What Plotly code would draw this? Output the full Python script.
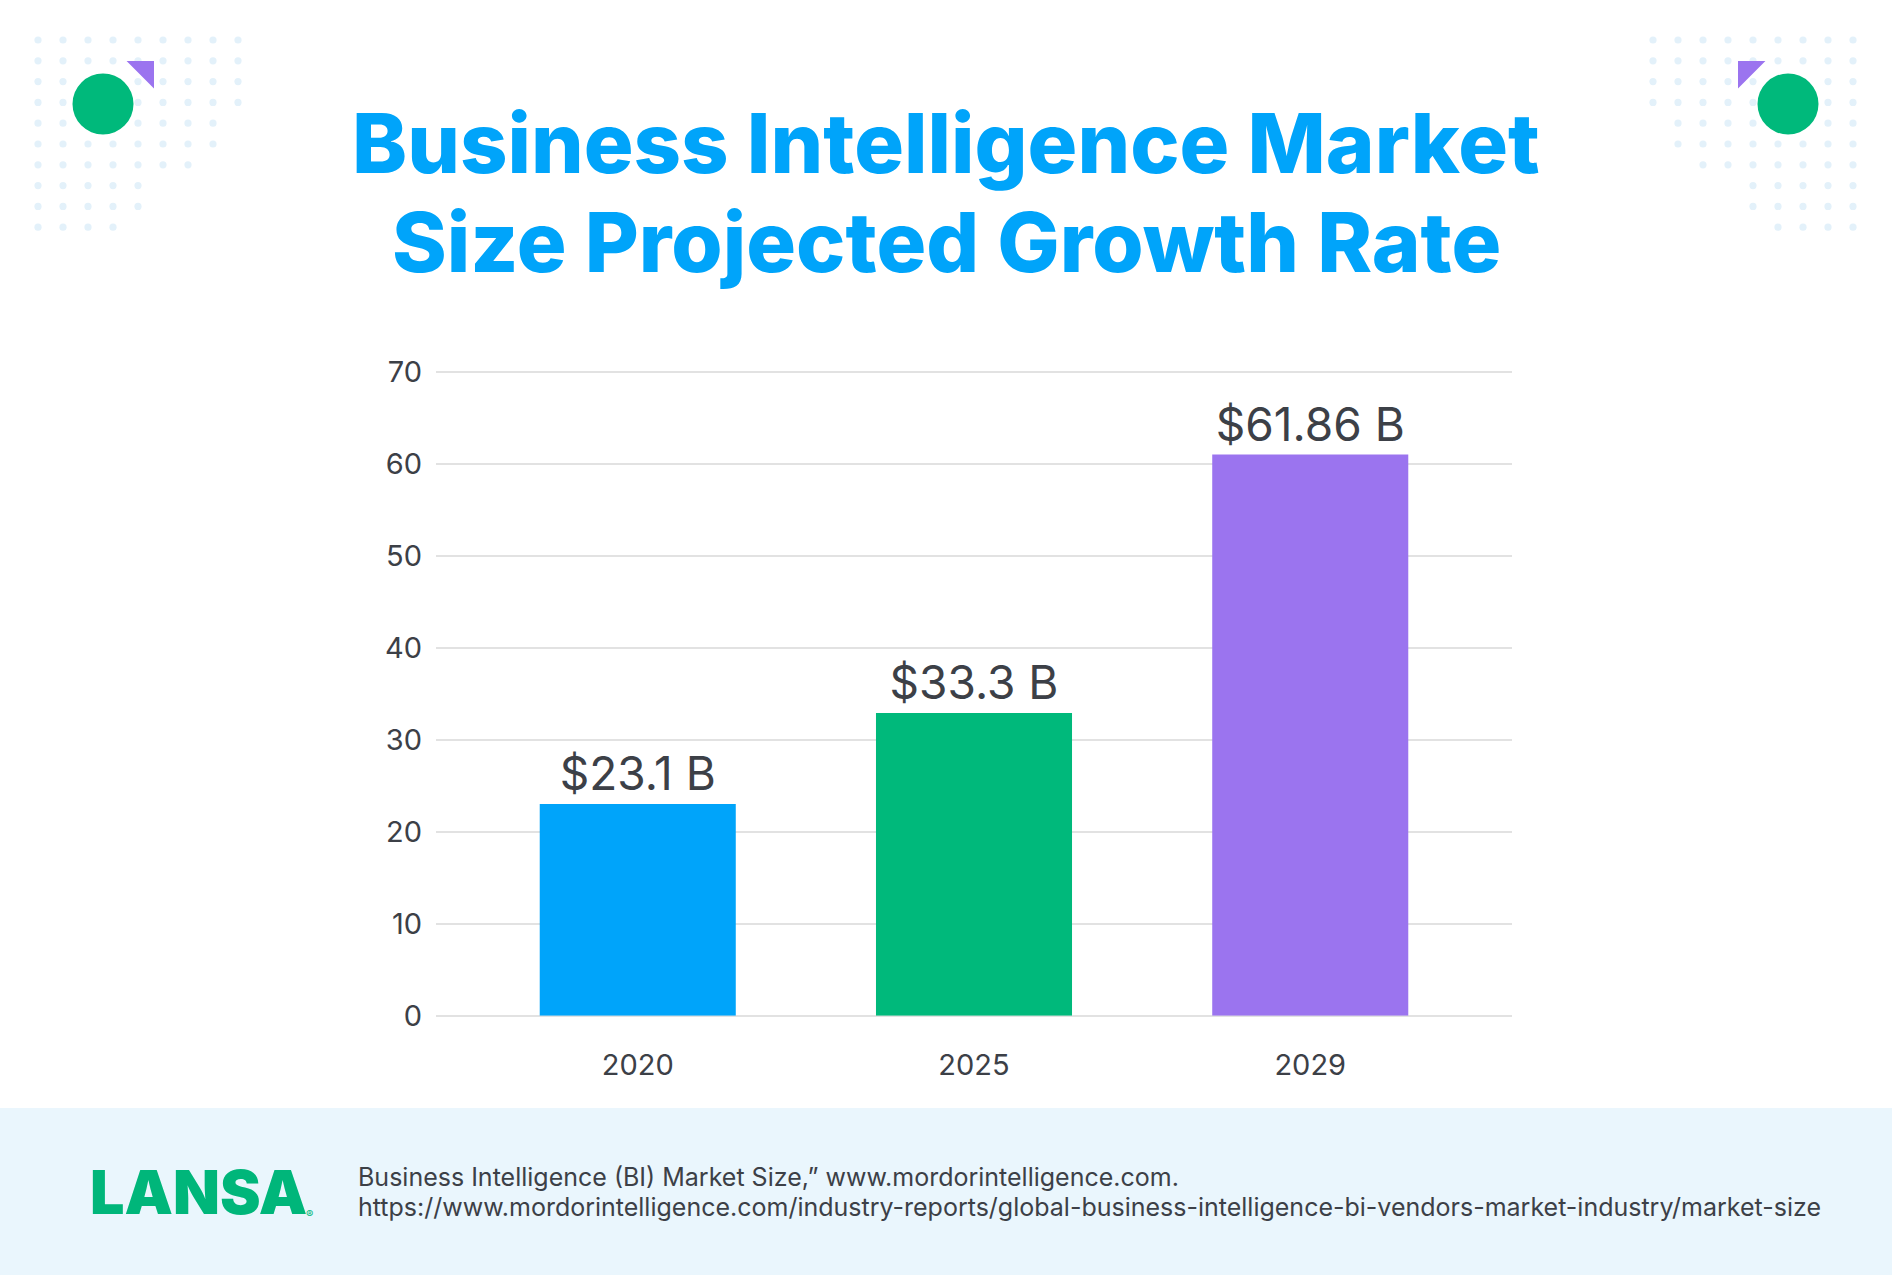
import plotly.graph_objects as go

W, H = 1892, 1275

years = ["2020", "2025", "2029"]
market_size = [23.0, 32.9, 61.0]
value_labels = ["$23.1 B", "$33.3 B", "$61.86 B"]
bar_colors = ["#00a4fa", "#00b97b", "#9b74ef"]

title_lines = ["Business Intelligence Market", "Size Projected Growth Rate"]
source_lines = [
    "Business Intelligence (BI) Market Size,\u201d www.mordorintelligence.com.",
    "https://www.mordorintelligence.com/industry-reports/global-business-intelligence-bi-vendors-market-industry/market-size",
]

# dots per row in the corner patterns (top-left; top-right is mirrored)
dot_rows = [9, 9, 9, 9, 8, 8, 7, 5, 5, 4]

TEXT = "#3c4047"
DOT = "#e3f1fa"
Y_TOP = 70.3


def px(x):
    return x / W


def py(y):
    return 1 - y / H


fig = go.Figure()

fig.add_trace(
    go.Bar(
        x=years,
        y=market_size,
        marker=dict(color=bar_colors, line=dict(width=0)),
        text=value_labels,
        textposition="outside",
        textfont=dict(family="Inter", size=46, color=TEXT),
        constraintext="none",
        cliponaxis=False,
        hoverinfo="skip",
    )
)

shapes = []

# footer band
shapes.append(
    dict(type="rect", xref="paper", yref="paper", x0=0, x1=1, y0=0, y1=py(1108),
         fillcolor="#eaf6fd", line=dict(width=0), layer="below")
)

# dotted corner patterns
r = 3.6
for i, n in enumerate(dot_rows):
    cy = 40 + i * 20.8
    for j in range(n):
        for cx in (38 + j * 25, 1853 - j * 25):
            shapes.append(
                dict(type="circle", xref="paper", yref="paper",
                     x0=px(cx - r), x1=px(cx + r), y0=py(cy + r), y1=py(cy - r),
                     fillcolor=DOT, line=dict(width=0), layer="below")
            )

# green circles and purple triangles
for cx in (103, 1788):
    shapes.append(
        dict(type="circle", xref="paper", yref="paper",
             x0=px(cx - 30.5), x1=px(cx + 30.5), y0=py(104 + 30.5), y1=py(104 - 30.5),
             fillcolor="#00b97b", line=dict(width=0))
    )


def tri(pts):
    d = "M " + " L ".join(f"{px(x)},{py(y)}" for x, y in pts) + " Z"
    return dict(type="path", xref="paper", yref="paper", path=d,
                fillcolor="#9b74ef", line=dict(color="#9b74ef", width=2))


shapes.append(tri([(129, 62), (153, 62), (153, 86)]))
shapes.append(tri([(1739, 62), (1763, 62), (1739, 86)]))

annotations = []
for i, line in enumerate(title_lines):
    annotations.append(
        dict(text=line, xref="paper", yref="paper", x=px(946), y=py(143 + i * 99),
             xanchor="center", yanchor="middle", showarrow=False,
             font=dict(family="Inter", size=83, color="#00a4fa", weight=800))
    )

for i, line in enumerate(source_lines):
    annotations.append(
        dict(text=line, xref="paper", yref="paper", x=px(356), y=py(1177 + i * 30),
             xanchor="left", yanchor="middle", showarrow=False,
             font=dict(family="Inter", size=25, color=TEXT))
    )

annotations.append(
    dict(text="LANSA", xref="paper", yref="paper", x=px(88), y=py(1192),
         xanchor="left", yanchor="middle", showarrow=False,
         font=dict(family="Inter", size=61, color="#00b67a", weight=900))
)
annotations.append(
    dict(text="\u00ae", xref="paper", yref="paper", x=px(304), y=py(1214),
         xanchor="left", yanchor="middle", showarrow=False,
         font=dict(family="Inter", size=11, color="#00b67a"))
)

fig.update_layout(
    width=W,
    height=H,
    margin=dict(l=0, r=0, t=0, b=0),
    paper_bgcolor="white",
    plot_bgcolor="white",
    showlegend=False,
    bargap=0.417,
    shapes=shapes,
    annotations=annotations,
    xaxis=dict(
        domain=[px(436), px(1512)],
        type="category",
        range=[-0.6, 2.6],
        showgrid=False,
        showline=False,
        ticks="",
        ticklabelstandoff=29,
        tickfont=dict(family="Inter", size=29, color=TEXT),
        automargin=False,
        fixedrange=True,
    ),
    yaxis=dict(
        domain=[py(1015.7), py(1015.7 - Y_TOP * 9.2)],
        range=[0, Y_TOP],
        dtick=10,
        showgrid=True,
        gridcolor="#e2e2e2",
        gridwidth=1.5,
        zeroline=True,
        zerolinecolor="#e2e2e2",
        zerolinewidth=1.5,
        showline=False,
        ticks="",
        ticklabelstandoff=13,
        tickfont=dict(family="Inter", size=29, color=TEXT),
        automargin=False,
        fixedrange=True,
    ),
)

fig.write_html(
    "out.html",
    config=dict(displayModeBar=False),
    post_script="document.body.style.margin='0';document.body.style.overflow='hidden';",
)
